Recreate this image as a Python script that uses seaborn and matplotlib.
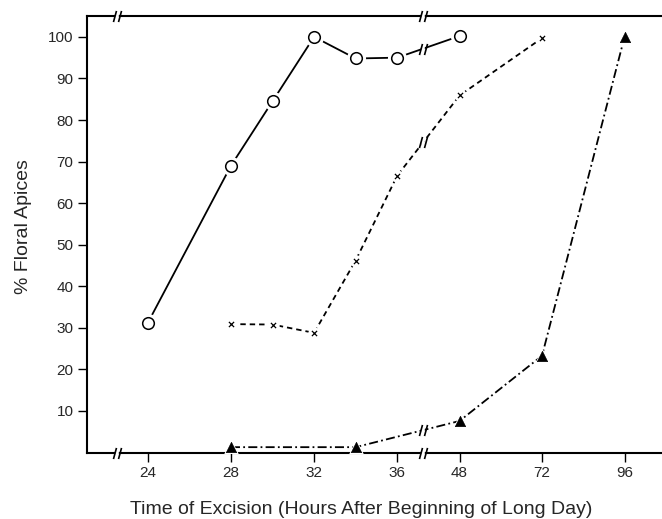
import numpy as np
import matplotlib
matplotlib.use("Agg")
import matplotlib.pyplot as plt
from matplotlib.path import Path
import seaborn as sns

sns.set_style("ticks")
plt.rcParams["font.family"] = ["Liberation Sans", "DejaVu Sans"]

# ---------------------------
# Data
# ---------------------------
circle_hours = [24, 28, 30, 32, 34, 36, 48]
circle_pct = [31.2, 69.0, 84.5, 100, 94.8, 95.0, 100.2]

cross_hours = [28, 30, 32, 34, 36, 48, 72]
cross_pct = [30.9, 30.8, 28.8, 46.2, 66.6, 85.9, 99.7]

tri_hours = [28, 34, 48, 72, 96]
tri_pct = [1.3, 1.3, 7.6, 23.3, 100]

xticks = [24, 28, 32, 36, 48, 72, 96]
yticks = [10, 20, 30, 40, 50, 60, 70, 80, 90, 100]
break_hours = [22.5, 41]


# ---------------------------
# Broken time axis: 1 unit per hour up to 36 h, compressed after 48 h
# ---------------------------
_h = [0, 36, 48, 200]
_p = [0, 36, 39, 39 + 152 * 0.1654]


def fwd(h):
    return np.interp(h, _h, _p)


def inv(p):
    return np.interp(p, _p, _h)


# "//" break symbol
brk = Path([(-4, -5.5), (-1, 5.5), (1, -5.5), (4, 5.5)],
           [Path.MOVETO, Path.LINETO, Path.MOVETO, Path.LINETO])


def draw_break(ax, x, y, clip=True):
    ax.plot([x], [y], ls="", marker="|", ms=7, mew=2.6, mec="white",
            zorder=6, clip_on=clip)
    ax.plot([x], [y], ls="", marker=brk, ms=8, mew=1.2, mec="black",
            zorder=7, clip_on=clip)


fig = plt.figure(figsize=(6.62, 5.19), dpi=100)
ax = fig.add_axes([0.131, 0.128, 0.869, 0.841])

lw = 1.3
sns.lineplot(x=circle_hours, y=circle_pct, ax=ax, color="black", lw=lw,
             estimator=None, sort=False, zorder=2)
sns.lineplot(x=cross_hours, y=cross_pct, ax=ax, color="black", lw=lw,
             linestyle=(0, (3.0, 2.2)), estimator=None, sort=False, zorder=2)
sns.lineplot(x=tri_hours, y=tri_pct, ax=ax, color="black", lw=lw,
             linestyle=(0, (5.0, 1.8, 1.0, 1.8)), estimator=None, sort=False,
             zorder=2)

# white halos so lines stop short of the markers
sns.scatterplot(x=circle_hours, y=circle_pct, ax=ax, marker="o", s=190,
                color="white", linewidth=0, zorder=3)
sns.scatterplot(x=cross_hours, y=cross_pct, ax=ax, marker="o", s=80,
                color="white", linewidth=0, zorder=3)
sns.scatterplot(x=tri_hours, y=tri_pct, ax=ax, marker="^", s=130,
                color="white", linewidth=0, zorder=3)

sns.scatterplot(x=circle_hours, y=circle_pct, ax=ax, marker="o", s=70,
                facecolor="white", edgecolor="black", linewidth=1.1, zorder=4)
sns.scatterplot(x=cross_hours, y=cross_pct, ax=ax, marker="x", s=14,
                color="black", linewidth=0.9, zorder=4)
sns.scatterplot(x=tri_hours, y=tri_pct, ax=ax, marker="^", s=55,
                color="black", edgecolor="black", linewidth=0.5, zorder=4)

ax.set_xscale("function", functions=(fwd, inv))
ax.set_xlim(21.06, 106.9)
ax.set_ylim(0, 105)
ax.set_xticks(xticks)
ax.set_xticklabels([str(t) for t in xticks])
ax.set_yticks(yticks)
ax.minorticks_off()

# break marks on the axes and on each line
for bh in break_hours:
    draw_break(ax, bh, 0, clip=False)
    draw_break(ax, bh, 105, clip=False)
for hrs, pct in [(circle_hours, circle_pct), (cross_hours, cross_pct),
                 (tri_hours, tri_pct)]:
    yb = np.interp(fwd(break_hours[1]), fwd(np.array(hrs)), pct)
    draw_break(ax, break_hours[1], yb)

for side in ["left", "top", "bottom"]:
    ax.spines[side].set_linewidth(1.5)
    ax.spines[side].set_color("black")
ax.spines["right"].set_visible(False)
ax.tick_params(axis="both", direction="out", length=6.5, width=1,
               color="black", labelsize=11, pad=3, top=False, right=False)

ax.set_xlabel("Time of Excision (Hours After Beginning of Long Day)",
              fontsize=14)
ax.set_ylabel("% Floral Apices", fontsize=14)
ax.xaxis.set_label_coords(0.477, -0.11)
ax.yaxis.set_label_coords(-0.095, 0.518)

fig.savefig("out.png", dpi=100)
